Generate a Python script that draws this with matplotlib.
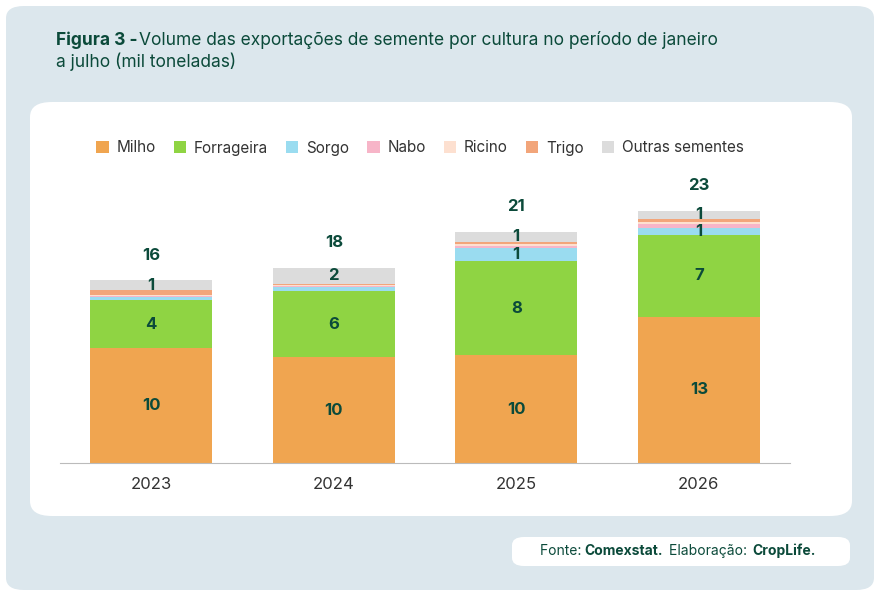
import matplotlib.pyplot as plt
from matplotlib.patches import FancyBboxPatch
import numpy as np

plt.rcParams['font.family'] = ['Inter', 'DejaVu Sans']

years = ["2023", "2024", "2025", "2026"]
series = ["Milho", "Forrageira", "Sorgo", "Nabo", "Ricino", "Trigo", "Outras sementes"]
milho = [10.4, 9.6, 9.8, 13.3]
forrageira = [4.4, 6.0, 8.5, 7.4]
sorgo = [0.3, 0.35, 1.2, 0.6]
nabo = [0.1, 0.15, 0.2, 0.4]
ricino = [0.1, 0.05, 0.2, 0.2]
trigo = [0.4, 0.1, 0.2, 0.3]
outras = [0.9, 1.5, 0.9, 0.7]
totals = [16, 18, 21, 23]
colors = ["#f0a550", "#8fd443", "#9adcf0", "#f7b5c8", "#fde0d0", "#f2a57a", "#dcdcdc"]
dark = "#0b4a3a"

W, H = 880, 596
fig = plt.figure(figsize=(W / 100, H / 100), dpi=100)
fig.patch.set_facecolor("white")

def px_box(x0, y0, x1, y1, color, r):
    fig.patches.append(FancyBboxPatch((x0 / W, 1 - y1 / H), (x1 - x0) / W, (y1 - y0) / H,
                                      boxstyle=f"round,pad=0,rounding_size={r / W}",
                                      transform=fig.transFigure, facecolor=color,
                                      edgecolor="none", zorder=-5))

px_box(6, 6, 874, 590, "#dce7ed", 18)
px_box(30, 102, 852, 516, "white", 22)
px_box(512, 537, 850, 566, "white", 12)

fig.text(56 / W, 1 - 40 / H, "Figura 3 -", fontsize=12.5, fontweight="bold", color=dark, va="center")
fig.text(139 / W, 1 - 40 / H, "Volume das exportações de semente por cultura no período de janeiro",
         fontsize=12.5, color=dark, va="center")
fig.text(56 / W, 1 - 62 / H, "a julho (mil toneladas)", fontsize=12.5, color=dark, va="center")

fig.text(540 / W, 1 - 551 / H, "Fonte: ", fontsize=10, color=dark, va="center")
fig.text(584 / W, 1 - 551 / H, "Comexstat.", fontsize=10, fontweight="bold", color=dark, va="center")
fig.text(669 / W, 1 - 551 / H, "Elaboração: ", fontsize=10, color=dark, va="center")
fig.text(752 / W, 1 - 551 / H, "CropLife.", fontsize=10, fontweight="bold", color=dark, va="center")

ax = fig.add_axes([60 / W, 1 - 463 / H, 730 / W, 283 / H])
ax.set_zorder(5)
ax.set_facecolor("none")
x = np.arange(len(years))
data = [milho, forrageira, sorgo, nabo, ricino, trigo, outras]
bottom = np.zeros(len(years))
for name, vals, c in zip(series, data, colors):
    vals = np.array(vals)
    ax.bar(x, vals, 0.67, bottom=bottom, color=c, label=name)
    for i, v in enumerate(vals):
        if v >= 0.5:
            ax.text(x[i], bottom[i] + v / 2, f"{round(v)}", ha="center", va="center",
                    fontsize=12, fontweight="bold", color=dark)
    bottom += vals
for i, t in enumerate(totals):
    ax.text(x[i], bottom[i] + 1.6, str(t), ha="center", va="bottom", fontsize=12,
            fontweight="bold", color=dark)

ax.set_xlim(-0.5, 3.5)
ax.set_ylim(0, 25.7)
ax.set_yticks([])
ax.set_xticks(x)
ax.set_xticklabels(years, fontsize=12, color="#333333")
ax.tick_params(axis="x", length=0, pad=10)
for s in ["top", "right", "left"]:
    ax.spines[s].set_visible(False)
ax.spines["bottom"].set_color("#bbbbbb")

handles, labels = ax.get_legend_handles_labels()
leg = fig.legend(handles, labels, loc="center", bbox_to_anchor=(420 / W, 1 - 148 / H), ncol=7,
                 frameon=False, fontsize=11, handlelength=0.8, handleheight=0.8,
                 columnspacing=1.2, handletextpad=0.5, labelcolor="#333333")
leg.set_zorder(6)

fig.savefig("out.png", dpi=100)
